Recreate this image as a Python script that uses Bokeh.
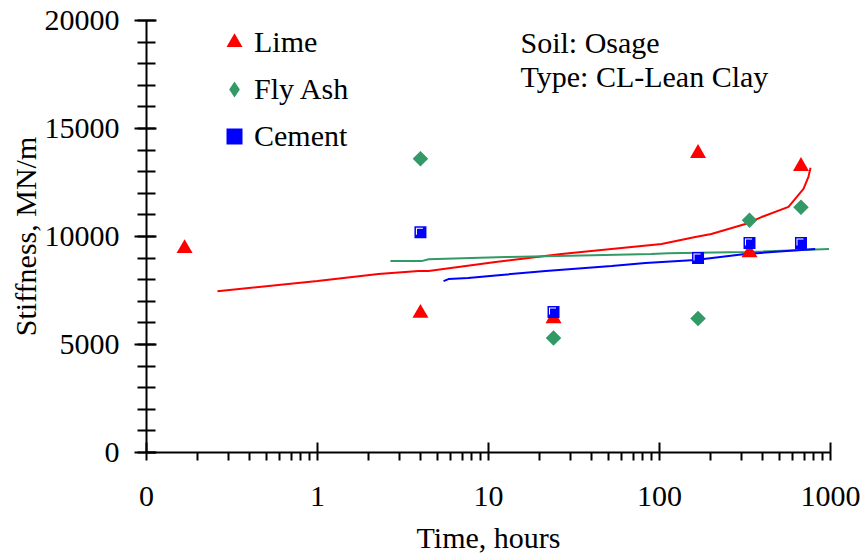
import numpy as np
from bokeh.plotting import figure
from bokeh.models import (Range1d, LogScale, FixedTicker, CustomJSTickFormatter,
                          Legend, LegendItem, Label)
from bokeh.embed import file_html
from bokeh.resources import INLINE

# ---------------- data ----------------
lime_t = [0.167, 4, 24, 168, 336, 672]
lime_k = [9450, 6450, 6200, 13850, 9250, 13250]

flyash_t = [4, 24, 168, 336, 672]
flyash_k = [13600, 5300, 6200, 10750, 11350]

cement_t = [4, 24, 168, 336, 672]
cement_k = [10200, 6500, 9000, 9700, 9700]

lime_fit_t = [0.26, 1.0, 2.27, 3.9, 4.46, 11.0, 26.7, 52.4, 102.8, 162, 201, 318, 395, 568, 695, 743, 764]
lime_fit_k = [7470, 7935, 8260, 8400, 8400, 8820, 9190, 9420, 9650, 9976, 10115, 10580, 10900, 11370, 12200, 12760, 13180]

flyash_fit_t = [2.67, 4.06, 4.46, 12.6, 25.6, 89.6, 112, 318, 980]
flyash_fit_k = [8860, 8860, 8950, 9050, 9100, 9190, 9230, 9280, 9420]

cement_fit_t = [5.46, 5.83, 7.6, 11, 21.6, 52.4, 82.7, 162, 318, 814]
cement_fit_k = [7935, 8030, 8080, 8200, 8400, 8630, 8770, 8910, 9190, 9420]

x_ticks = [0.1, 1, 10, 100, 1000]
y_ticks = [0, 5000, 10000, 15000, 20000]

# ---------------- styles ----------------
FONT = "Liberation Serif"
RED = "#FF0000"
GREEN = "#339966"
BLUE = "#0000FF"

W, H = 863, 558
LEFT, RIGHT, TOP, BOTTOM = 146, 33, 20, 106
XMIN, XMAX = 0.1, 1000
YMIN, YMAX = 0, 20000

p = figure(width=W, height=H, x_axis_type="log",
           x_range=Range1d(XMIN, XMAX), y_range=Range1d(YMIN, YMAX),
           output_backend="svg", toolbar_location=None,
           min_border_left=LEFT, min_border_right=RIGHT,
           min_border_top=TOP, min_border_bottom=BOTTOM)
p.outline_line_color = None
p.xgrid.visible = False
p.ygrid.visible = False
p.background_fill_color = "white"
p.border_fill_color = "white"

# shifted ranges (1 px up-left) used to draw the white corner inside the cement squares
frame_w = W - LEFT - RIGHT
frame_h = H - TOP - BOTTOM
kx = 10 ** (np.log10(XMAX / XMIN) / frame_w)
dy = (YMAX - YMIN) / frame_h
p.extra_x_ranges = {"xs": Range1d(XMIN * kx, XMAX * kx)}
p.extra_x_scales = {"xs": LogScale()}
p.extra_y_ranges = {"ys": Range1d(YMIN - dy, YMAX - dy)}

# axes
xa = p.xaxis[0]
xa.ticker = FixedTicker(ticks=x_ticks,
                        minor_ticks=[m * d for d in [0.1, 1, 10, 100] for m in range(2, 10)])
xa.formatter = CustomJSTickFormatter(code="return tick < 0.5 ? '0' : tick.toFixed(0);")
ya = p.yaxis[0]
ya.ticker = FixedTicker(ticks=y_ticks, minor_ticks=list(range(0, 20001, 1000)))

for ax in (xa, ya):
    ax.axis_line_width = 2
    ax.axis_line_color = "black"
    ax.major_tick_line_width = 2
    ax.minor_tick_line_width = 2
    ax.major_tick_line_color = "black"
    ax.minor_tick_line_color = "black"
    ax.major_label_text_font = FONT
    ax.major_label_text_font_size = "30px"
    ax.major_label_text_color = "black"
    ax.axis_label_text_font = FONT
    ax.axis_label_text_font_size = "30px"
    ax.axis_label_text_font_style = "normal"
    ax.axis_label_text_color = "black"

xa.axis_label = "Time, hours"
xa.major_tick_in = 10
xa.major_tick_out = 8
xa.minor_tick_in = 0
xa.minor_tick_out = 8
xa.major_label_standoff = 26
xa.axis_label_standoff = 12

ya.axis_label = "Stiffness, MN/m"
ya.major_tick_in = 10
ya.major_tick_out = 12
ya.minor_tick_in = 9
ya.minor_tick_out = 9
ya.major_label_standoff = 15
ya.axis_label_standoff = 0

# trend lines
p.line(lime_fit_t, lime_fit_k, line_color=RED, line_width=2)
p.line(flyash_fit_t, flyash_fit_k, line_color=GREEN, line_width=2)
p.line(cement_fit_t, cement_fit_k, line_color=BLUE, line_width=2)

# markers
r_lime = p.scatter(lime_t, lime_k, marker="triangle", size=16,
                   fill_color=RED, line_color=RED, line_width=0)
r_fly = p.scatter(flyash_t, flyash_k, marker="square", angle=np.pi / 4, size=11,
                  fill_color=GREEN, line_color=GREEN, line_width=0)
r_cem = p.scatter(cement_t, cement_k, marker="square", size=12,
                  fill_color=BLUE, line_color=BLUE, line_width=0)
p.scatter(cement_t, cement_k, marker="square", size=7, fill_color="white",
          line_color=None, x_range_name="xs", y_range_name="ys")
p.scatter(cement_t, cement_k, marker="square", size=7, fill_color=BLUE,
          line_color=None)

# legend proxy for the diamond (legend glyphs are never rotated)
leg_fly = p.scatter([np.nan], [np.nan], marker="diamond", fill_color=GREEN,
                    line_color=GREEN, line_width=0)

legend = Legend(items=[LegendItem(label="Lime", renderers=[r_lime]),
                       LegendItem(label="Fly Ash", renderers=[leg_fly]),
                       LegendItem(label="Cement", renderers=[r_cem])],
                location=(68, 296), orientation="vertical")
legend.background_fill_alpha = 0
legend.border_line_color = None
legend.padding = 0
legend.margin = 0
legend.spacing = 7
legend.glyph_width = 40
legend.glyph_height = 40
legend.label_height = 40
legend.label_standoff = 0
legend.label_text_font = FONT
legend.label_text_font_size = "30px"
legend.label_text_color = "black"
legend.label_text_baseline = "middle"
p.add_layout(legend, "center")

# info text
for txt, ys in (("Soil: Osage", 410), ("Type: CL-Lean Clay", 376)):
    p.add_layout(Label(x=374, y=ys, x_units="screen", y_units="screen", text=txt,
                       text_font=FONT, text_font_size="30px", text_color="black",
                       text_baseline="middle", text_align="left"))

open("out.html", "w").write(file_html(p, INLINE))
